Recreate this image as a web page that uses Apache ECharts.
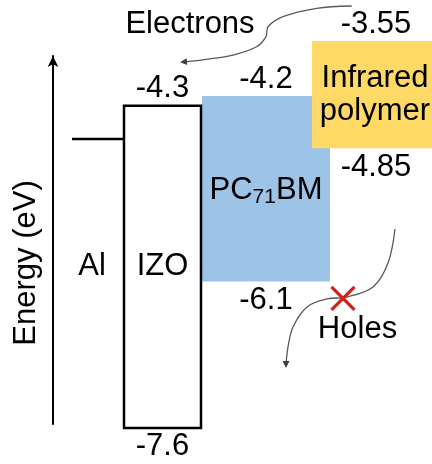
<!DOCTYPE html>
<html><head><meta charset="utf-8">
<script src="https://cdn.jsdelivr.net/npm/echarts@6/dist/echarts.min.js"></script>
<style>html,body{margin:0;padding:0;background:#fff}#c{width:432px;height:464px}</style>
</head><body><div id="c"></div>
<script>
// ---- data (energies in eV) ----
const layers = ['Al', 'IZO', 'PC71BM', 'Infrared polymer'];
const upperLevel = [-4.64, -4.30, -4.20, -3.636];   // drawn top edge / Al level
const lowerLevel = [null, -7.60, -6.10, -4.736];    // drawn bottom edge
const upperLabel = ['', '-4.3', '-4.2', '-3.55'];
const lowerLabel = ['', '-7.6', '-6.1', '-4.85'];
const axisRange = [-7.56, -3.79];

// ---- layout (x in diagram units, y in eV) ----
const FONT = '"Liberation Sans", Arial, sans-serif';
const LAYOUT = {
  xSpan: { 'Al': [72, 124], 'IZO': [124, 201], 'PC71BM': [202, 330], 'Infrared polymer': [312, 440] },
  nameX: { 'Al': 92 },
  nameMidOf: { 'Al': 'IZO' },
  labelGapAbove: 17,
  labelGapBelow: 19
};
const STYLE = {
  'Al': { stroke: '#000', lineWidth: 2.5 },
  'IZO': { fill: '#fff', stroke: '#000', lineWidth: 2.5, z2: 5 },
  'PC71BM': { fill: '#9DC3E6', z2: 2 },
  'Infrared polymer': { fill: '#FFD966', z2: 6 }
};
const ANNOT = {
  electronPath: [[351.7,-3.278],[316.7,-3.301],[283,-3.387],[268,-3.490],[266,-3.592],[256.7,-3.695],[233,-3.780],[206.7,-3.824],[186.7,-3.848],[180,-3.855]],
  holePath: [[395,-5.562],[388,-5.911],[373,-6.157],[347,-6.259],[327,-6.279],[307,-6.361],[293,-6.566],[288,-6.771],[286,-6.935],[286,-6.986]],
  blockedAt: [343, -6.272],
  texts: [['Electrons', 190, -3.462], ['Holes', 357.5, -6.587]]
};

const textStyle = (t, x, y, extra) => Object.assign({
  text: t, x: x, y: y, fill: '#000', align: 'center', verticalAlign: 'middle',
  fontSize: 31, fontFamily: FONT
}, extra || {});

function renderLayer(params, api) {
  const i = params.dataIndex;
  const name = layers[i];
  const sp = LAYOUT.xSpan[name];
  const st = STYLE[name];
  const p0 = api.coord([sp[0], upperLevel[i]]);
  const x1 = api.coord([sp[1], upperLevel[i]])[0];
  const cx = (p0[0] + x1) / 2;
  const children = [];
  if (lowerLevel[i] == null) {
    children.push({ type: 'line', shape: { x1: p0[0], y1: p0[1], x2: x1, y2: p0[1] },
      style: { stroke: st.stroke, lineWidth: st.lineWidth } });
    const ref = layers.indexOf(LAYOUT.nameMidOf[name]);
    const ym = (api.coord([0, upperLevel[ref]])[1] + api.coord([0, lowerLevel[ref]])[1]) / 2;
    const nx = api.coord([LAYOUT.nameX[name], 0])[0];
    children.push({ type: 'text', style: textStyle(name, nx, ym), z2: 10 });
  } else {
    const yb = api.coord([sp[0], lowerLevel[i]])[1];
    children.push({ type: 'rect', shape: { x: p0[0], y: p0[1], width: x1 - p0[0], height: yb - p0[1] },
      style: { fill: st.fill, stroke: st.stroke || null, lineWidth: st.lineWidth || 0 }, z2: st.z2 });
    children.push({ type: 'text', style: textStyle(upperLabel[i], cx, p0[1] - LAYOUT.labelGapAbove), z2: 10 });
    children.push({ type: 'text', style: textStyle(lowerLabel[i], cx, yb + LAYOUT.labelGapBelow), z2: 10 });
    const ym = (p0[1] + yb) / 2;
    let nameStyle;
    if (name === 'PC71BM') {
      nameStyle = textStyle('{a|PC}{b|71}{a|BM}', cx, ym + 2, {
        rich: {
          a: { fontSize: 31, fontFamily: FONT, fill: '#000', lineHeight: 34, verticalAlign: 'middle' },
          b: { fontSize: 21, fontFamily: FONT, fill: '#000', lineHeight: 14, verticalAlign: 'bottom' }
        }
      });
    } else if (name === 'Infrared polymer') {
      nameStyle = textStyle('Infrared\npolymer', cx - 1, ym, { lineHeight: 33 });
    } else {
      nameStyle = textStyle(name, cx, ym);
    }
    children.push({ type: 'text', style: nameStyle, z2: 10 });
  }
  return { type: 'group', children: children };
}

function arrowCurve(api, path) {
  const pts = path.map(p => api.coord(p));
  const n = pts.length;
  const tip = pts[n - 1], prev = pts[n - 2];
  let dx = tip[0] - prev[0], dy = tip[1] - prev[1];
  const L = Math.hypot(dx, dy); dx /= L; dy /= L;
  const len = 7, hw = 3.5;
  const bx = tip[0] - dx * len, by = tip[1] - dy * len;
  return [
    { type: 'polyline', shape: { points: pts.slice(0, n - 1).concat([[bx + dx, by + dy]]), smooth: 0.35 },
      style: { stroke: '#595959', lineWidth: 1.3, fill: null } },
    { type: 'polygon', shape: { points: [tip, [bx - dy * hw, by + dx * hw], [bx + dy * hw, by - dx * hw]] },
      style: { fill: '#404040' } }
  ];
}

function renderAnnot(params, api) {
  let children = [];
  children = children.concat(arrowCurve(api, ANNOT.electronPath));
  children = children.concat(arrowCurve(api, ANNOT.holePath));
  const c = api.coord(ANNOT.blockedAt), r = 11.5;
  children.push({ type: 'line', shape: { x1: c[0] - r, y1: c[1] - r, x2: c[0] + r, y2: c[1] + r },
    style: { stroke: '#D0201E', lineWidth: 3.2 }, z2: 12 });
  children.push({ type: 'line', shape: { x1: c[0] + r, y1: c[1] - r, x2: c[0] - r, y2: c[1] + r },
    style: { stroke: '#D0201E', lineWidth: 3.2 }, z2: 12 });
  ANNOT.texts.forEach(t => {
    const p = api.coord([t[1], t[2]]);
    children.push({ type: 'text', style: textStyle(t[0], p[0], p[1]), z2: 10 });
  });
  return { type: 'group', children: children };
}

const chart = echarts.init(document.getElementById('c'), null, { renderer: 'canvas' });
chart.setOption({
  animation: false,
  backgroundColor: '#fff',
  grid: { left: 53, right: 0, top: 56, bottom: 40 },
  xAxis: { type: 'value', min: 53, max: 432, show: false },
  yAxis: {
    type: 'value', min: axisRange[0], max: axisRange[1],
    name: 'Energy (eV)', nameLocation: 'middle', nameRotate: 90, nameGap: 11,
    nameTextStyle: { fontSize: 31, fontFamily: FONT, color: '#000', padding: [0, 46, 0, 0] },
    axisLine: { show: true, onZero: false, symbol: ['none', 'arrow'], symbolSize: [8, 11],
      lineStyle: { color: '#000', width: 2 } },
    axisTick: { show: false }, axisLabel: { show: false }, splitLine: { show: false }
  },
  series: [
    { type: 'custom', renderItem: renderLayer, data: layers.map((n, i) => [i]), clip: false, z: 2 },
    { type: 'custom', renderItem: renderAnnot, data: [[0]], clip: false, z: 3 }
  ]
});
</script></body></html>
